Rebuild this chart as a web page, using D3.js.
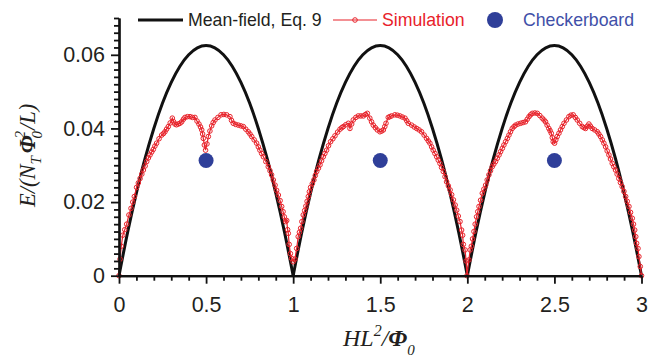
<!DOCTYPE html>
<html>
<head>
<meta charset="utf-8">
<script src="https://cdn.jsdelivr.net/npm/d3@7"></script>
<style>
  body { margin: 0; background: #fff; }
  svg { display: block; }
  .tick text { font-family: "Liberation Sans", Arial, sans-serif; font-size: 21.5px; fill: #231f20; }
</style>
</head>
<body>
<div id="chart"></div>
<script>
// Mean-field curve (Eq. 9)
const mfX = [0,0.05,0.1,0.15,0.2,0.25,0.3,0.35,0.4,0.45,0.5,0.55,0.6,0.65,0.7,0.75,0.8,0.85,0.9,0.95,1,
  1.05,1.1,1.15,1.2,1.25,1.3,1.35,1.4,1.45,1.5,1.55,1.6,1.65,1.7,1.75,1.8,1.85,1.9,1.95,2,
  2.05,2.1,2.15,2.2,2.25,2.3,2.35,2.4,2.45,2.5,2.55,2.6,2.65,2.7,2.75,2.8,2.85,2.9,2.95,3];
const mfE = [0,0.0119,0.0225,0.0319,0.0400,0.0469,0.0525,0.0569,0.0600,0.0619,0.0625,0.0619,0.0600,0.0569,0.0525,0.0469,0.0400,0.0319,0.0225,0.0119,0,
  0.0119,0.0225,0.0319,0.0400,0.0469,0.0525,0.0569,0.0600,0.0619,0.0625,0.0619,0.0600,0.0569,0.0525,0.0469,0.0400,0.0319,0.0225,0.0119,0,
  0.0119,0.0225,0.0319,0.0400,0.0469,0.0525,0.0569,0.0600,0.0619,0.0625,0.0619,0.0600,0.0569,0.0525,0.0469,0.0400,0.0319,0.0225,0.0119,0];

// Simulation points
const simX = [0.000,0.006,0.013,0.022,0.033,0.044,0.057,0.069,0.079,0.088,0.101,0.111,0.121,0.131,0.140,0.150,0.159,0.169,0.178,0.188,
  0.197,0.206,0.216,0.230,0.245,0.255,0.264,0.273,0.283,0.294,0.306,0.314,0.321,0.330,0.340,0.350,0.360,0.370,0.379,0.393,
  0.408,0.422,0.436,0.448,0.459,0.468,0.475,0.480,0.484,0.490,0.497,0.505,0.513,0.522,0.532,0.541,0.551,0.568,0.586,0.602,
  0.618,0.637,0.646,0.656,0.670,0.685,0.700,0.714,0.728,0.742,0.752,0.762,0.776,0.790,0.800,0.809,0.819,0.829,0.843,0.857,
  0.867,0.876,0.886,0.896,0.905,0.915,0.925,0.934,0.942,0.949,0.957,0.963,0.968,0.972,0.977,0.984,0.991,1.000,1.010,1.020,
  1.029,1.036,1.043,1.050,1.058,1.066,1.073,1.080,1.087,1.093,1.100,1.110,1.119,1.127,1.135,1.145,1.154,1.163,1.173,1.182,
  1.192,1.203,1.215,1.228,1.240,1.255,1.269,1.279,1.288,1.302,1.317,1.326,1.336,1.345,1.360,1.374,1.389,1.403,1.415,1.426,
  1.440,1.450,1.460,1.472,1.483,1.498,1.508,1.518,1.526,1.533,1.546,1.555,1.565,1.584,1.598,1.613,1.627,1.642,1.652,1.661,
  1.680,1.695,1.709,1.723,1.737,1.752,1.766,1.776,1.785,1.795,1.804,1.814,1.824,1.833,1.843,1.852,1.862,1.872,1.881,1.891,
  1.901,1.910,1.920,1.930,1.939,1.948,1.958,1.967,1.973,1.977,1.987,1.993,1.998,2.009,2.016,
  2.023,2.030,2.038,2.045,2.053,2.060,2.067,2.076,2.086,2.095,2.105,2.114,2.124,2.133,2.143,2.152,2.162,2.172,2.182,2.191,
  2.201,2.210,2.220,2.230,2.239,2.248,2.258,2.268,2.277,2.291,2.306,2.320,2.334,2.344,2.354,2.363,2.373,2.388,2.402,2.416,
  2.430,2.440,2.449,2.458,2.468,2.475,2.482,2.488,2.493,2.501,2.508,2.516,2.526,2.535,2.545,2.555,2.569,2.583,2.595,2.608,
  2.620,2.631,2.645,2.660,2.670,2.679,2.688,2.698,2.707,2.717,2.731,2.746,2.755,2.765,2.775,2.784,2.794,2.803,2.813,2.822,
  2.832,2.841,2.851,2.860,2.870,2.879,2.889,2.899,2.909,2.918,2.928,2.937,2.947,2.954,2.961,2.967,2.972,2.980,2.985,2.993,3.000];
const simE = [0.0000,0.0045,0.0080,0.0110,0.0125,0.0140,0.0165,0.0183,0.0200,0.0215,0.0240,0.0252,0.0264,0.0276,0.0287,0.0298,0.0310,0.0320,0.0328,0.0336,
  0.0343,0.0352,0.0360,0.0372,0.0382,0.0386,0.0391,0.0398,0.0405,0.0415,0.0428,0.0418,0.0412,0.0410,0.0412,0.0414,0.0418,0.0425,0.0430,0.0432,
  0.0432,0.0430,0.0430,0.0420,0.0412,0.0404,0.0396,0.0385,0.0373,0.0355,0.0341,0.0358,0.0378,0.0393,0.0407,0.0416,0.0423,0.0430,0.0437,0.0438,
  0.0437,0.0432,0.0422,0.0414,0.0411,0.0409,0.0407,0.0405,0.0398,0.0391,0.0385,0.0378,0.0369,0.0360,0.0350,0.0341,0.0332,0.0323,0.0310,0.0296,
  0.0285,0.0274,0.0260,0.0246,0.0232,0.0219,0.0204,0.0188,0.0174,0.0160,0.0147,0.0150,0.0125,0.0115,0.0085,0.0060,0.0047,0.0038,0.0045,0.0074,
  0.0106,0.0118,0.0129,0.0147,0.0165,0.0177,0.0189,0.0202,0.0215,0.0228,0.0240,0.0250,0.0260,0.0272,0.0283,0.0292,0.0301,0.0312,0.0323,0.0332,
  0.0341,0.0353,0.0364,0.0372,0.0380,0.0390,0.0398,0.0402,0.0405,0.0410,0.0414,0.0400,0.0412,0.0423,0.0430,0.0434,0.0434,0.0434,0.0438,0.0441,
  0.0428,0.0418,0.0409,0.0402,0.0396,0.0391,0.0393,0.0396,0.0405,0.0414,0.0430,0.0432,0.0434,0.0437,0.0436,0.0434,0.0431,0.0428,0.0421,0.0414,
  0.0409,0.0404,0.0400,0.0396,0.0391,0.0382,0.0373,0.0366,0.0360,0.0350,0.0341,0.0332,0.0323,0.0314,0.0305,0.0294,0.0283,0.0269,0.0255,0.0244,
  0.0233,0.0220,0.0206,0.0192,0.0178,0.0162,0.0147,0.0124,0.0110,0.0085,0.0070,0.0040,0.0000,0.0043,0.0070,
  0.0080,0.0100,0.0120,0.0140,0.0160,0.0174,0.0188,0.0205,0.0224,0.0235,0.0246,0.0260,0.0274,0.0285,0.0296,0.0303,0.0310,0.0319,0.0328,0.0337,
  0.0346,0.0355,0.0364,0.0373,0.0382,0.0391,0.0400,0.0405,0.0409,0.0412,0.0414,0.0416,0.0418,0.0425,0.0432,0.0437,0.0441,0.0442,0.0441,0.0435,
  0.0428,0.0423,0.0418,0.0409,0.0400,0.0394,0.0387,0.0375,0.0364,0.0360,0.0369,0.0378,0.0387,0.0396,0.0405,0.0414,0.0423,0.0432,0.0436,0.0437,
  0.0430,0.0423,0.0414,0.0405,0.0402,0.0400,0.0406,0.0412,0.0406,0.0400,0.0396,0.0391,0.0385,0.0378,0.0369,0.0360,0.0350,0.0339,0.0328,0.0317,
  0.0305,0.0296,0.0287,0.0276,0.0264,0.0253,0.0242,0.0229,0.0215,0.0202,0.0188,0.0172,0.0156,0.0140,0.0124,0.0106,0.0088,0.0074,0.0052,0.0025,0.0000];

// Checkerboard points
const cbX = [0.5, 1.5, 2.5];
const cbE = [0.0313, 0.0313, 0.0313];

const xMajor = [0, 0.5, 1, 1.5, 2, 2.5, 3];
const xLabels = ["0", "0.5", "1", "1.5", "2", "2.5", "3"];
const yMajor = [0, 0.02, 0.04, 0.06];
const yLabels = ["0", "0.02", "0.04", "0.06"];

const width = 648, height = 360;
const margin = {top: 18, right: 6.5, bottom: 84.3, left: 119};
const red = "#e8222a", blue = "#2f3f99";

const svg = d3.select("#chart").append("svg")
  .attr("width", width)
  .attr("height", height);

const x = d3.scaleLinear().domain([0, 3]).range([margin.left, width - margin.right]);
const y = d3.scaleLinear().domain([0, 0.07]).range([height - margin.bottom, margin.top]);

// mean-field, drawn arch by arch so the cusps stay sharp
const mf = mfX.map((d, i) => ({x: d, e: mfE[i]}));
const mfLine = d3.line().x(d => x(d.x)).y(d => y(d.e)).curve(d3.curveMonotoneX);
[0, 1, 2].forEach(k => {
  svg.append("path")
    .datum(mf.filter(d => d.x >= k && d.x <= k + 1))
    .attr("fill", "none")
    .attr("stroke", "#111")
    .attr("stroke-width", 3)
    .attr("d", mfLine);
});

// simulation
const sim = simX.map((d, i) => ({x: d, e: simE[i]}));
svg.append("path")
  .datum(sim)
  .attr("fill", "none")
  .attr("stroke", red)
  .attr("stroke-width", 1.2)
  .attr("d", d3.line().x(d => x(d.x)).y(d => y(d.e)));
svg.append("g")
  .selectAll("circle")
  .data(sim)
  .join("circle")
  .attr("cx", d => x(d.x))
  .attr("cy", d => y(d.e))
  .attr("r", 2.3)
  .attr("fill", "none")
  .attr("stroke", red)
  .attr("stroke-width", 1);

// checkerboard
svg.append("g")
  .selectAll("circle")
  .data(cbX.map((d, i) => ({x: d, e: cbE[i]})))
  .join("circle")
  .attr("cx", d => x(d.x))
  .attr("cy", d => y(d.e))
  .attr("r", 7.5)
  .attr("fill", blue);

// axes
const xMinor = d3.range(0, 31).map(i => i / 10).filter(v => Math.abs(v * 2 - Math.round(v * 2)) > 1e-6);
const yMinor = d3.range(0, 36).map(i => i / 500).filter(v => Math.abs(v * 50 - Math.round(v * 50)) > 1e-6);

const gxMinor = svg.append("g")
  .attr("transform", `translate(0,${y(0)})`)
  .call(d3.axisBottom(x).tickValues(xMinor).tickSize(5).tickSizeOuter(0).tickFormat(""));
const gx = svg.append("g")
  .attr("transform", `translate(0,${y(0)})`)
  .call(d3.axisBottom(x).tickValues(xMajor).tickSize(8).tickSizeOuter(0).tickPadding(13)
    .tickFormat((d, i) => xLabels[i]));
const gyMinor = svg.append("g")
  .attr("transform", `translate(${x(0)},0)`)
  .call(d3.axisLeft(y).tickValues(yMinor).tickSize(5).tickSizeOuter(0).tickFormat(""));
const gy = svg.append("g")
  .attr("transform", `translate(${x(0)},0)`)
  .call(d3.axisLeft(y).tickValues(yMajor).tickSize(8).tickSizeOuter(0).tickPadding(6)
    .tickFormat((d, i) => yLabels[i]));

[gxMinor, gx, gyMinor, gy].forEach(g => {
  g.select(".domain").attr("stroke", "#111").attr("stroke-width", 2.2);
  g.selectAll(".tick line").attr("stroke", "#111").attr("stroke-width", 1.8);
});

// axis titles
const serif = '"Liberation Serif", "Times New Roman", serif';
const xt = svg.append("text")
  .attr("x", 343).attr("y", 346)
  .style("font-family", serif).style("font-style", "italic").style("font-size", "24px")
  .attr("fill", "#231f20");
xt.append("tspan").text("HL");
xt.append("tspan").attr("dy", -10).style("font-size", "16px").text("2");
xt.append("tspan").attr("dy", 10).text("/");
xt.append("tspan").style("font-weight", "bold").text("Φ");
xt.append("tspan").attr("dy", 9).attr("dx", 0).style("font-size", "15px").text("0");

const yt = svg.append("text")
  .attr("transform", "translate(35,207) rotate(-90)")
  .style("font-family", serif).style("font-style", "italic").style("font-size", "22.5px")
  .attr("fill", "#231f20");
yt.append("tspan").text("E/(N");
yt.append("tspan").attr("dy", 6).style("font-size", "15px").text("T");
yt.append("tspan").attr("dy", -6).attr("dx", 3).style("font-weight", "bold").text("Φ");
yt.append("tspan").attr("dy", 7).attr("dx", -3).style("font-size", "15px").text("0");
yt.append("tspan").attr("dy", -17).attr("dx", -7.5).style("font-size", "15px").text("2");
yt.append("tspan").attr("dy", 10).attr("dx", 1).text("/L)");

// legend
const lg = svg.append("g").style("font-family", '"Liberation Sans", Arial, sans-serif').style("font-size", "17.7px");
lg.append("line").attr("x1", 138).attr("x2", 183).attr("y1", 20).attr("y2", 20)
  .attr("stroke", "#111").attr("stroke-width", 3);
lg.append("text").attr("x", 188).attr("y", 26).attr("fill", "#231f20").text("Mean-field, Eq. 9");
lg.append("line").attr("x1", 333).attr("x2", 377).attr("y1", 20).attr("y2", 20)
  .attr("stroke", red).attr("stroke-width", 1.2);
lg.append("circle").attr("cx", 355).attr("cy", 20).attr("r", 2.3)
  .attr("fill", "none").attr("stroke", red);
lg.append("text").attr("x", 382).attr("y", 26).attr("fill", red).text("Simulation");
lg.append("circle").attr("cx", 495).attr("cy", 20).attr("r", 8).attr("fill", blue);
lg.append("text").attr("x", 523).attr("y", 26).attr("fill", "#4150a8").text("Checkerboard");
</script>
</body>
</html>
